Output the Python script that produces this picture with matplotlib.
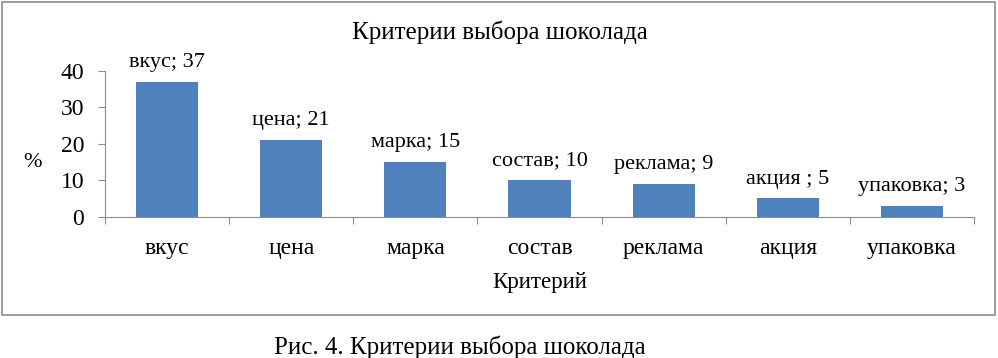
import matplotlib.pyplot as plt
from matplotlib.patches import Rectangle

plt.rcParams['font.family'] = ['Liberation Serif', 'DejaVu Serif']

categories = ['вкус', 'цена', 'марка', 'состав', 'реклама', 'акция', 'упаковка']
values = [37, 21, 15, 10, 9, 5, 3]
bar_labels = ['вкус; 37', 'цена; 21', 'марка; 15', 'состав; 10', 'реклама; 9', 'акция ; 5', 'упаковка; 3']

W, H = 998, 358
fig = plt.figure(figsize=(W / 100, H / 100), dpi=100)

# chart frame
fig.patches.append(Rectangle((2 / W, 1 - 315 / H), 993 / W, 313 / H, transform=fig.transFigure,
                             fill=False, edgecolor='#8c8c8c', linewidth=1.2))

ax = fig.add_axes([105 / W, 1 - 216.7 / H, 869 / W, 146 / H])
x = list(range(len(categories)))
ax.bar(x, values, width=0.5, color='#4f81bd')
for xi, v, lab in zip(x, values, bar_labels):
    ax.annotate(lab, (xi, v), xytext=(0, 7), textcoords='offset points',
                ha='center', va='bottom', fontsize=16)

ax.set_xlim(-0.5, len(categories) - 0.5)
ax.set_ylim(0, 40)
ax.set_yticks([0, 10, 20, 30, 40])
ax.set_xticks([i - 0.5 for i in range(len(categories) + 1)])
ax.set_xticklabels([])
ax.set_xticks(x, minor=True)
ax.set_xticklabels(categories, minor=True, fontsize=17)
ax.tick_params(axis='x', which='major', direction='out', length=5, color='#8c8c8c')
ax.tick_params(axis='x', which='minor', length=0, pad=15)
ax.tick_params(axis='y', direction='out', length=5, color='#8c8c8c', labelsize=17, pad=10)
for s in ['top', 'right']:
    ax.spines[s].set_visible(False)
for s in ['left', 'bottom']:
    ax.spines[s].set_color('#8c8c8c')

ax.set_ylabel('%', fontsize=16, rotation=0, va='center', ha='center')
ax.yaxis.set_label_coords(-0.083, 0.37)
ax.set_xlabel('Критерий', fontsize=16.5, labelpad=10)

fig.text(500 / W, 1 - 32 / H, 'Критерии выбора шоколада', ha='center', va='center', fontsize=18)
fig.text(460 / W, 1 - 347 / H, 'Рис. 4. Критерии выбора шоколада', ha='center', va='center', fontsize=18)

fig.savefig('out.png', dpi=100)
